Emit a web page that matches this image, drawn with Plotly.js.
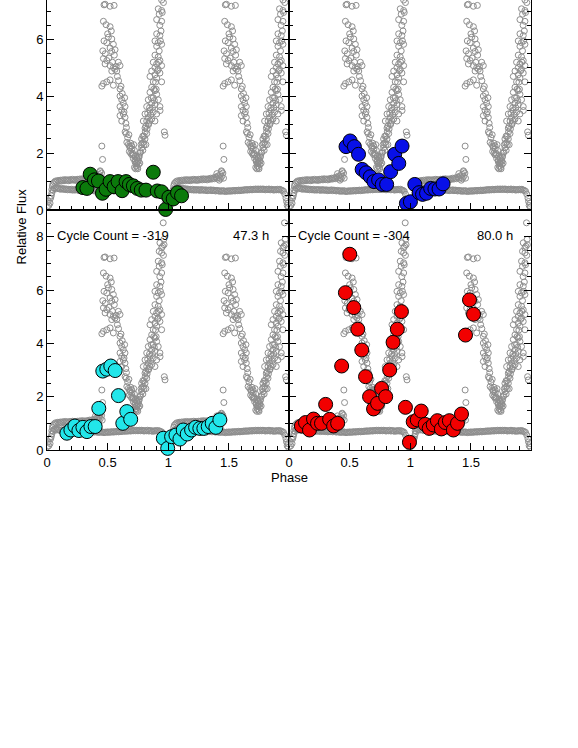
<!DOCTYPE html>
<html>
<head>
<meta charset="utf-8">
<script src="https://cdn.plot.ly/plotly-3.0.1.min.js"></script>
<style>
  html, body { margin: 0; padding: 0; background: #fff; }
  #chart { width: 578px; height: 748px; }
</style>
</head>
<body>
<div id="chart"></div>
<script>
// folded light curve, one cycle (drawn again at phase + 1)
const lowPhase = [0.03,0.04,0.05,0.06,0.07,0.08,0.09,0.10,0.11,0.12,0.13,0.14,0.15,0.16,0.17,0.18,0.19,0.20,0.21,0.22,0.23,0.24,0.25,0.26,0.27,0.28,0.29,0.30,0.31,0.32,0.33,0.34,0.35,0.36,0.37,0.38,0.39,0.40,0.41,0.42,0.43,0.44,0.45,0.46,0.47,0.48,0.49,0.50,0.51,0.52,0.53,0.54,0.55,0.56,0.57,0.58,0.59,0.60,0.61,0.62,0.63,0.64,0.65,0.66,0.67,0.68,0.69,0.70,0.71,0.72,0.73,0.74,0.75,0.76,0.77,0.78,0.79,0.80,0.81,0.82,0.83,0.84,0.85,0.86,0.87,0.88,0.89,0.90,0.91,0.92,0.93,0.94,0.95,0.96,0.97];
const lowFlux = [0.42,0.60,0.70,0.76,0.78,0.75,0.77,0.75,0.73,0.76,0.73,0.75,0.72,0.74,0.71,0.73,0.71,0.73,0.70,0.72,0.70,0.72,0.71,0.69,0.72,0.70,0.71,0.69,0.71,0.68,0.70,0.69,0.71,0.68,0.70,0.69,0.67,0.69,0.68,0.66,0.68,0.66,0.68,0.67,0.65,0.67,0.66,0.68,0.66,0.68,0.67,0.69,0.67,0.69,0.68,0.70,0.68,0.70,0.69,0.71,0.70,0.72,0.70,0.72,0.71,0.73,0.71,0.73,0.72,0.74,0.72,0.74,0.72,0.74,0.72,0.74,0.73,0.71,0.73,0.72,0.74,0.71,0.73,0.72,0.70,0.72,0.71,0.73,0.71,0.73,0.70,0.69,0.66,0.56,0.42];

const upPhase = [0.035,0.04,0.045,0.05,0.06,0.07,0.08,0.09,0.10,0.11,0.12,0.13,0.14,0.15,0.16,0.17,0.18,0.19,0.20,0.21,0.22,0.23,0.24,0.25,0.26,0.27,0.28,0.29,0.30,0.31,0.32,0.33,0.34,0.35,0.36,0.37,0.38,0.39,0.40,0.41,0.42,0.43,0.44,0.45,0.40,0.42,0.44,0.43,0.455];
const upFlux = [0.50,0.72,0.85,0.93,0.98,1.02,0.99,1.04,1.01,1.05,1.02,1.06,1.03,1.07,1.04,1.06,1.03,1.07,1.05,1.08,1.05,1.07,1.04,1.08,1.06,1.09,1.06,1.10,1.07,1.09,1.06,1.10,1.08,1.12,1.09,1.13,1.10,1.16,1.12,1.20,1.14,1.25,1.18,1.30,1.28,1.05,1.35,1.10,1.12];

const hiPhase = [0.438,0.452,0.458,0.452,0.465,0.465,0.465,0.470,
  0.479,0.520,0.553,0.487,0.520,
  0.506,0.534,0.493,0.547,0.520,0.561,0.534,
  0.493,0.479,0.520,0.547,0.588,0.561,0.534,0.575,0.602,
  0.493,0.520,0.547,0.602,
  0.602,0.616,0.629,0.602,0.643,0.616,0.629,0.602,0.643,0.616,
  0.644,0.652,0.658,0.671,0.685,0.699,0.679,0.699,0.712,0.726,0.740,0.721,
  0.730,0.735,0.745,0.750,0.728,0.742,0.755,0.720,0.705,0.690,
  0.753,0.767,0.781,0.795,0.808,0.822,0.808,0.836,0.822,0.849,0.760,0.775,0.790,0.800,0.815,0.780,
  0.794,0.890,0.863,0.835,0.904,0.808,0.876,0.849,0.931,0.822,0.890,0.863,0.917,0.835,0.876,0.904,0.849,0.890,0.863,
  0.876,0.945,0.904,0.849,0.890,0.931,0.863,0.917,0.890,0.945,0.904,0.876,0.931,0.917,0.890,
  0.904,0.945,0.917,0.890,0.931,0.904,
  0.945,0.904,0.925,0.945,0.917,
  0.945,0.925,0.945,0.953,0.931,0.958,
  0.967,0.973,0.932,
  0.700,0.710,0.715,0.725,0.735,0.740,0.748,0.758,0.765,0.772,0.785,0.790,0.800,0.810,0.815,0.825,0.830,0.840,0.845,0.855,0.860,0.870,0.880,0.885,0.895,0.900,0.910,0.920,0.925,0.935,0.940,0.930,0.950,0.960,0.963,0.965,
  0.460,0.470,0.480,0.500,0.510,0.530,0.540,0.555,0.570,0.580,0.590,0.610,0.620,0.635,0.640,0.650,0.655,0.665,0.675,0.680,0.690,
  0.003,0.010,0.015,0.020,0.025,0.975,0.980,0.985,0.990,0.970];
const hiFlux = [1.38,2.25,1.78,4.36,4.45,5.33,6.64,7.22,
  7.24,7.17,7.20,6.52,6.45,
  6.08,6.02,5.89,5.83,5.70,5.64,5.58,
  5.26,5.14,5.08,5.01,5.20,4.95,4.89,4.89,5.08,
  4.51,4.58,4.39,4.26,
  4.01,3.88,3.76,3.64,3.64,3.51,3.38,3.32,3.26,3.13,
  2.75,2.69,2.38,2.31,2.19,2.25,2.06,1.94,1.81,1.69,1.63,1.50,
  1.45,1.55,1.50,1.70,1.90,1.85,1.60,2.10,2.00,2.35,
  1.75,2.00,2.19,2.38,2.50,2.69,2.88,3.00,3.13,3.13,1.90,2.30,2.10,2.60,2.30,2.50,
  3.13,3.13,3.20,3.26,3.38,3.38,3.45,3.51,3.64,3.64,3.70,3.76,3.88,3.88,3.95,4.07,4.14,4.20,4.32,
  4.51,4.51,4.64,4.70,4.76,4.82,4.89,4.95,5.01,5.08,5.14,5.20,5.26,5.39,5.45,
  5.76,5.83,5.89,5.95,6.14,6.20,
  6.64,6.70,6.89,7.02,7.08,
  7.39,7.45,7.58,7.64,7.77,8.52,
  2.75,2.63,3.50,
  2.15,1.95,2.30,1.75,1.65,1.80,1.45,1.85,1.65,2.05,2.35,2.60,2.30,2.75,2.95,2.85,3.40,3.05,3.60,3.35,3.95,3.60,4.25,3.85,4.50,4.25,4.90,5.20,5.60,5.95,6.30,6.50,6.95,7.30,7.90,7.70,
  5.60,5.95,5.50,6.20,5.35,6.30,5.20,5.45,5.05,4.70,4.55,4.35,4.10,3.45,3.95,3.05,2.90,2.55,2.65,2.25,2.00,
  0.12,0.30,0.16,0.42,0.24,0.30,0.16,0.24,0.10,-0.50];

// individual cycles
const greenPhase = [0.296,0.329,0.356,0.391,0.424,0.457,0.487,0.520,0.553,0.586,0.619,0.652,0.679,0.712,0.745,0.777,0.816,0.876,0.909,0.945,0.978,1.005,1.040,1.076,1.109];
const greenFlux = [0.79,0.76,1.26,1.06,1.02,0.59,0.73,1.00,0.82,1.00,0.68,1.00,0.90,0.85,0.76,0.70,0.70,1.33,0.67,0.64,0.02,0.45,0.39,0.61,0.50];

const bluePhase = [0.470,0.504,0.539,0.573,0.603,0.636,0.670,0.700,0.739,0.769,0.805,0.838,0.871,0.905,0.932,0.968,1.001,1.037,1.073,1.101,1.134,1.168,1.203,1.237,1.270];
const blueFlux = [2.23,2.43,2.23,1.96,1.43,1.31,1.17,1.00,1.06,0.90,0.90,1.35,1.96,1.64,2.25,0.23,0.29,0.90,0.61,0.55,0.59,0.76,0.74,0.74,0.92];

const cyanPhase = [0.164,0.197,0.230,0.263,0.296,0.329,0.362,0.397,0.427,0.460,0.493,0.526,0.562,0.589,0.625,0.658,0.690,0.959,0.995,1.027,1.063,1.096,1.123,1.156,1.192,1.225,1.260,1.293,1.329,1.362,1.392,1.425];
const cyanFlux = [0.63,0.75,0.90,0.73,0.85,0.69,0.88,0.88,1.56,2.96,3.03,3.15,2.98,2.04,1.00,1.44,1.15,0.44,0.06,0.50,0.56,0.41,0.75,0.60,0.75,0.85,0.81,0.81,0.88,1.00,0.85,1.13];

const redPhase = [0.102,0.136,0.169,0.202,0.235,0.268,0.302,0.335,0.368,0.401,0.434,0.465,0.501,0.534,0.567,0.600,0.631,0.664,0.697,0.730,0.763,0.797,0.830,0.858,0.893,0.927,0.960,0.993,1.024,1.057,1.090,1.123,1.156,1.189,1.223,1.256,1.289,1.322,1.355,1.389,1.422,1.455,1.488,1.521];
const redFlux = [0.90,1.03,0.75,1.16,1.00,1.00,1.71,1.15,0.90,1.00,3.15,5.90,7.34,5.34,4.53,3.75,2.75,2.00,1.54,1.75,2.31,2.00,3.00,4.04,4.53,5.19,1.60,0.29,1.06,1.13,1.46,0.96,0.81,0.94,1.10,0.79,1.03,1.10,0.75,1.00,1.35,4.31,5.63,5.09];

const cycleLabels = ["", "", "Cycle Count = -319", "Cycle Count = -304"];
const durationLabels = ["", "", "47.3 h", "80.0 h"];

const oneX = [...lowPhase, ...upPhase, ...hiPhase];
const oneY = [...lowFlux, ...upFlux, ...hiFlux];
const bgX = oneX.concat(oneX.map(p => p + 1));
const bgY = oneY.concat(oneY);

const panels = [
  { xa: "x", ya: "y", phase: greenPhase, flux: greenFlux, color: "#0b7a0b" },
  { xa: "x2", ya: "y2", phase: bluePhase, flux: blueFlux, color: "#0810e8" },
  { xa: "x3", ya: "y3", phase: cyanPhase, flux: cyanFlux, color: "#22e6ea" },
  { xa: "x4", ya: "y4", phase: redPhase, flux: redFlux, color: "#f20000" },
];

const data = [];
panels.forEach(p => {
  data.push({
    x: bgX, y: bgY, xaxis: p.xa, yaxis: p.ya,
    type: "scatter", mode: "markers", hoverinfo: "skip",
    marker: { symbol: "circle-open", size: 6, color: "#8e8e8e", line: { width: 1 } },
  });
  data.push({
    x: p.phase, y: p.flux, xaxis: p.xa, yaxis: p.ya,
    type: "scatter", mode: "markers", cliponaxis: false,
    marker: { size: 14, color: p.color, line: { color: "#000", width: 1 } },
  });
});

const font = { family: "Liberation Sans, Arial, sans-serif", size: 13, color: "#000" };

const xAxis = (domain, anchor, bottom) => ({
  domain, anchor, range: [0, 1.995],
  tickvals: [0, 0.5, 1, 1.5], ticktext: ["0", "0.5", "1", "1.5"],
  showticklabels: bottom,
  ticks: "inside", ticklen: 7, tickcolor: "#000",
  minor: { dtick: 0.1, tick0: 0, ticks: "inside", ticklen: 4, tickcolor: "#000" },
  showline: true, linecolor: "#000", linewidth: 1, mirror: bottom,
  showgrid: false, zeroline: false, tickfont: font,
});

const yAxis = (domain, anchor, range, left) => ({
  domain, anchor, range,
  tickmode: "linear", tick0: 0, dtick: 2,
  showticklabels: left,
  ticks: "inside", ticklen: 7, tickcolor: "#000",
  minor: { dtick: 0.5, tick0: 0, ticks: "inside", ticklen: 4, tickcolor: "#000" },
  showline: true, linecolor: "#000", linewidth: 1, mirror: "allticks",
  showgrid: false, zeroline: false, tickfont: font,
});

const annotations = [
  { xref: "x3", yref: "y3", x: 0.068, y: 8.06, xanchor: "left", text: cycleLabels[2] },
  { xref: "x3", yref: "y3", x: 1.85, y: 8.06, xanchor: "right", text: durationLabels[2] },
  { xref: "x4", yref: "y4", x: 0.06, y: 8.06, xanchor: "left", text: cycleLabels[3] },
  { xref: "x4", yref: "y4", x: 1.867, y: 8.06, xanchor: "right", text: durationLabels[3] },
  { xref: "paper", yref: "paper", x: 0.502, y: -0.06, text: "Phase" },
  { xref: "paper", yref: "paper", x: -0.0723, y: 0.4956, text: "Relative Flux", textangle: -90 },
].map(a => Object.assign({ showarrow: false, yanchor: "middle", font }, a));

const layout = {
  width: 578, height: 748,
  margin: { l: 47, r: 47, t: 0, b: 298 },
  paper_bgcolor: "#fff", plot_bgcolor: "#fff",
  showlegend: false,
  xaxis: xAxis([0, 0.5], "y", false),
  yaxis: yAxis([0.5333, 1], "x", [0, 7.39], true),
  xaxis2: xAxis([0.5, 1], "y2", false),
  yaxis2: yAxis([0.5333, 1], "x2", [0, 7.39], false),
  xaxis3: xAxis([0, 0.5], "y3", true),
  yaxis3: yAxis([0, 0.5333], "x3", [0, 9], true),
  xaxis4: xAxis([0.5, 1], "y4", true),
  yaxis4: yAxis([0, 0.5333], "x4", [0, 9], false),
  annotations,
};

Plotly.newPlot("chart", data, layout, { displayModeBar: false, staticPlot: true });
</script>
</body>
</html>
